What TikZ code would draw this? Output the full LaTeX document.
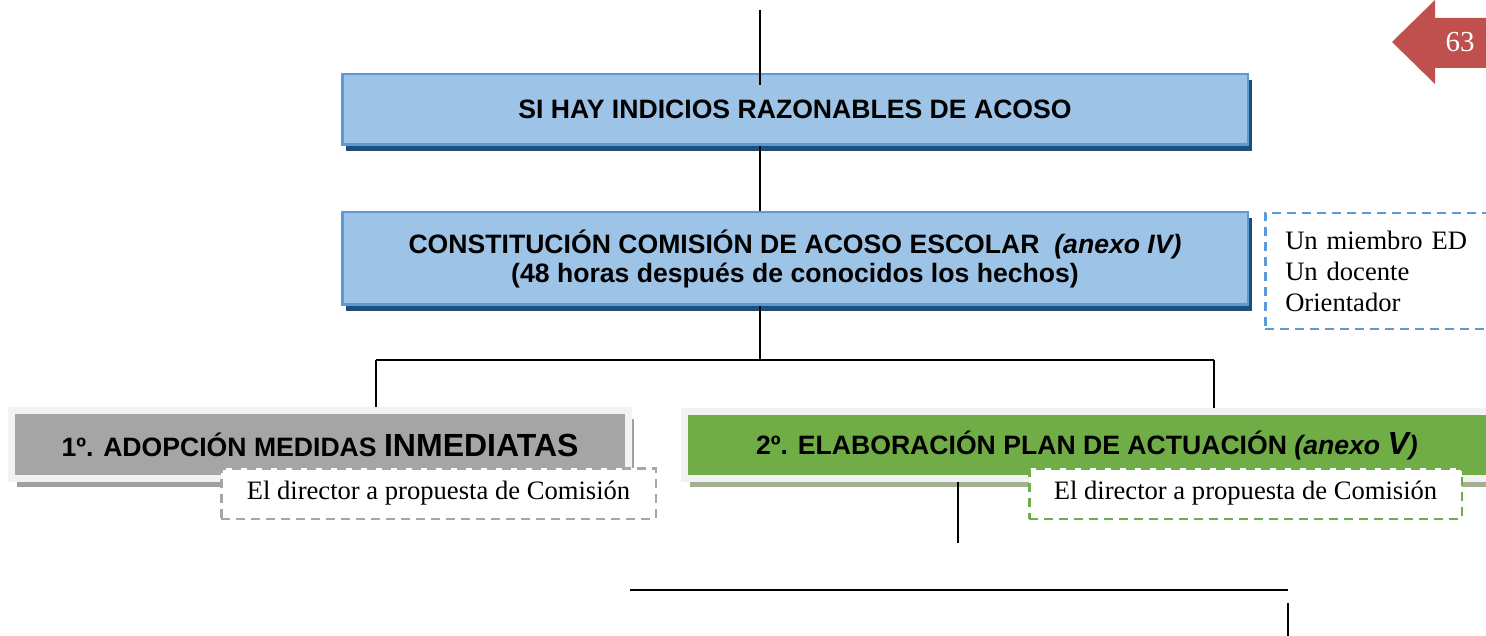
\documentclass[tikz,border=0pt]{standalone}
\usepackage{fontspec}
\setmainfont{Liberation Serif}
\setsansfont{Liberation Sans}
\usetikzlibrary{shadows}

\definecolor{azulfondo}{HTML}{9DC3E6}
\definecolor{azulborde}{HTML}{5B9BD5}
\definecolor{azulsombra}{HTML}{1F4E79}
\definecolor{marco}{HTML}{F2F2F2}
\definecolor{grisfondo}{HTML}{A5A5A5}
\definecolor{grissombra}{HTML}{A0A0A0}
\definecolor{verdefondo}{HTML}{70AD47}
\definecolor{verdesombra}{HTML}{A3B094}
\definecolor{grisraya}{HTML}{A6A6A6}
\definecolor{rojo}{HTML}{C0504D}

\tikzset{
  caja/.style={rectangle, inner sep=0pt, align=center,
    font=\sffamily\bfseries\fontsize{26.6}{29}\selectfont},
  cajaazul/.style={caja, fill=azulfondo, draw=azulborde, line width=2.5pt,
    drop shadow={shadow xshift=4pt, shadow yshift=-6pt, fill=azulsombra, opacity=1}},
  cajagris/.style={caja, fill=grisfondo, draw=marco, line width=7pt,
    drop shadow={shadow xshift=5pt, shadow yshift=-8pt, fill=grissombra, opacity=1}},
  cajaverde/.style={caja, fill=verdefondo, draw=marco, line width=7pt,
    drop shadow={shadow xshift=5pt, shadow yshift=-8pt, fill=verdesombra, opacity=1}},
  nota/.style={rectangle, fill=white, line width=2.5pt, dash pattern=on 9pt off 6pt,
    inner sep=0pt, font=\rmfamily\fontsize{26.6}{31}\selectfont},
  linea/.style={line width=1.5pt}
}

\begin{document}
\begin{tikzpicture}[x=1pt,y=-1pt]
\useasboundingbox (0,0) rectangle (1486,636);

\node[cajaazul, minimum width=905.5pt, minimum height=70.5pt] (indicios) at (795,109.5)
  {SI HAY INDICIOS RAZONABLES DE ACOSO};
\node[cajaazul, minimum width=905.5pt, minimum height=92.5pt] (comision) at (795,258.5)
  {CONSTITUCIÓN COMISIÓN DE ACOSO ESCOLAR\ \ \textit{(anexo IV)}\\(48 horas después de conocidos los hechos)};
\node[nota, draw=azulborde, anchor=north west, align=left, text width=195pt,
  inner xsep=20pt, minimum height=116pt] (miembros) at (1264,212)
  {Un miembro ED\\Un docente\\Orientador};

\node[cajagris, minimum width=617pt, minimum height=68pt] (medidas) at (320,444.5)
  {1º. ADOPCIÓN MEDIDAS {\fontsize{32}{36}\selectfont INMEDIATAS}};
\node[cajaverde, minimum width=805pt, minimum height=67pt] (plan) at (1087,445)
  {2º. ELABORACIÓN PLAN DE ACTUACIÓN \textit{(anexo {\fontsize{32}{36}\selectfont V})}};

\node[nota, draw=grisraya, minimum width=434.5pt, minimum height=50.5pt] (propgris) at (438.5,493.5)
  {El director a propuesta de Comisión};
\node[nota, draw=verdefondo, minimum width=432.5pt, minimum height=50.5pt] (propverde) at (1245.5,493.5)
  {El director a propuesta de Comisión};

\coordinate (arriba) at (760,10);
\coordinate (rama) at (760,360);
\coordinate (ramaizq) at (376,360);
\coordinate (ramader) at (1214,360);
\coordinate (bajada) at (958,543);
\coordinate (tramoizq) at (630,590);
\coordinate (tramoder) at (1288,590);
\coordinate (sigue) at (1288,603);

\draw[linea] (arriba) -- ([yshift=-12pt]indicios.north -| arriba);
\draw[linea] (indicios.south -| arriba) -- (comision.north -| arriba);
\draw[linea] (comision.south -| rama) -- (rama);
\draw[linea] (ramaizq) -- (ramader);
\draw[linea] (ramaizq) -- (medidas.north -| ramaizq);
\draw[linea] (ramader) -- (plan.north -| ramader);
\draw[linea] (plan.south -| bajada) -- (bajada);
\draw[linea] (tramoizq) -- (tramoder);
\draw[linea] (sigue) -- ++(0,40);

\fill[rojo] (1392,42) -- (1435,0) -- (1435,18) -- (1495,18) -- (1495,68)
  -- (1435,68) -- (1435,84) -- cycle;
\node[text=white, font=\rmfamily\fontsize{29}{29}\selectfont] (pagina) at (1460,42) {63};
\end{tikzpicture}
\end{document}
